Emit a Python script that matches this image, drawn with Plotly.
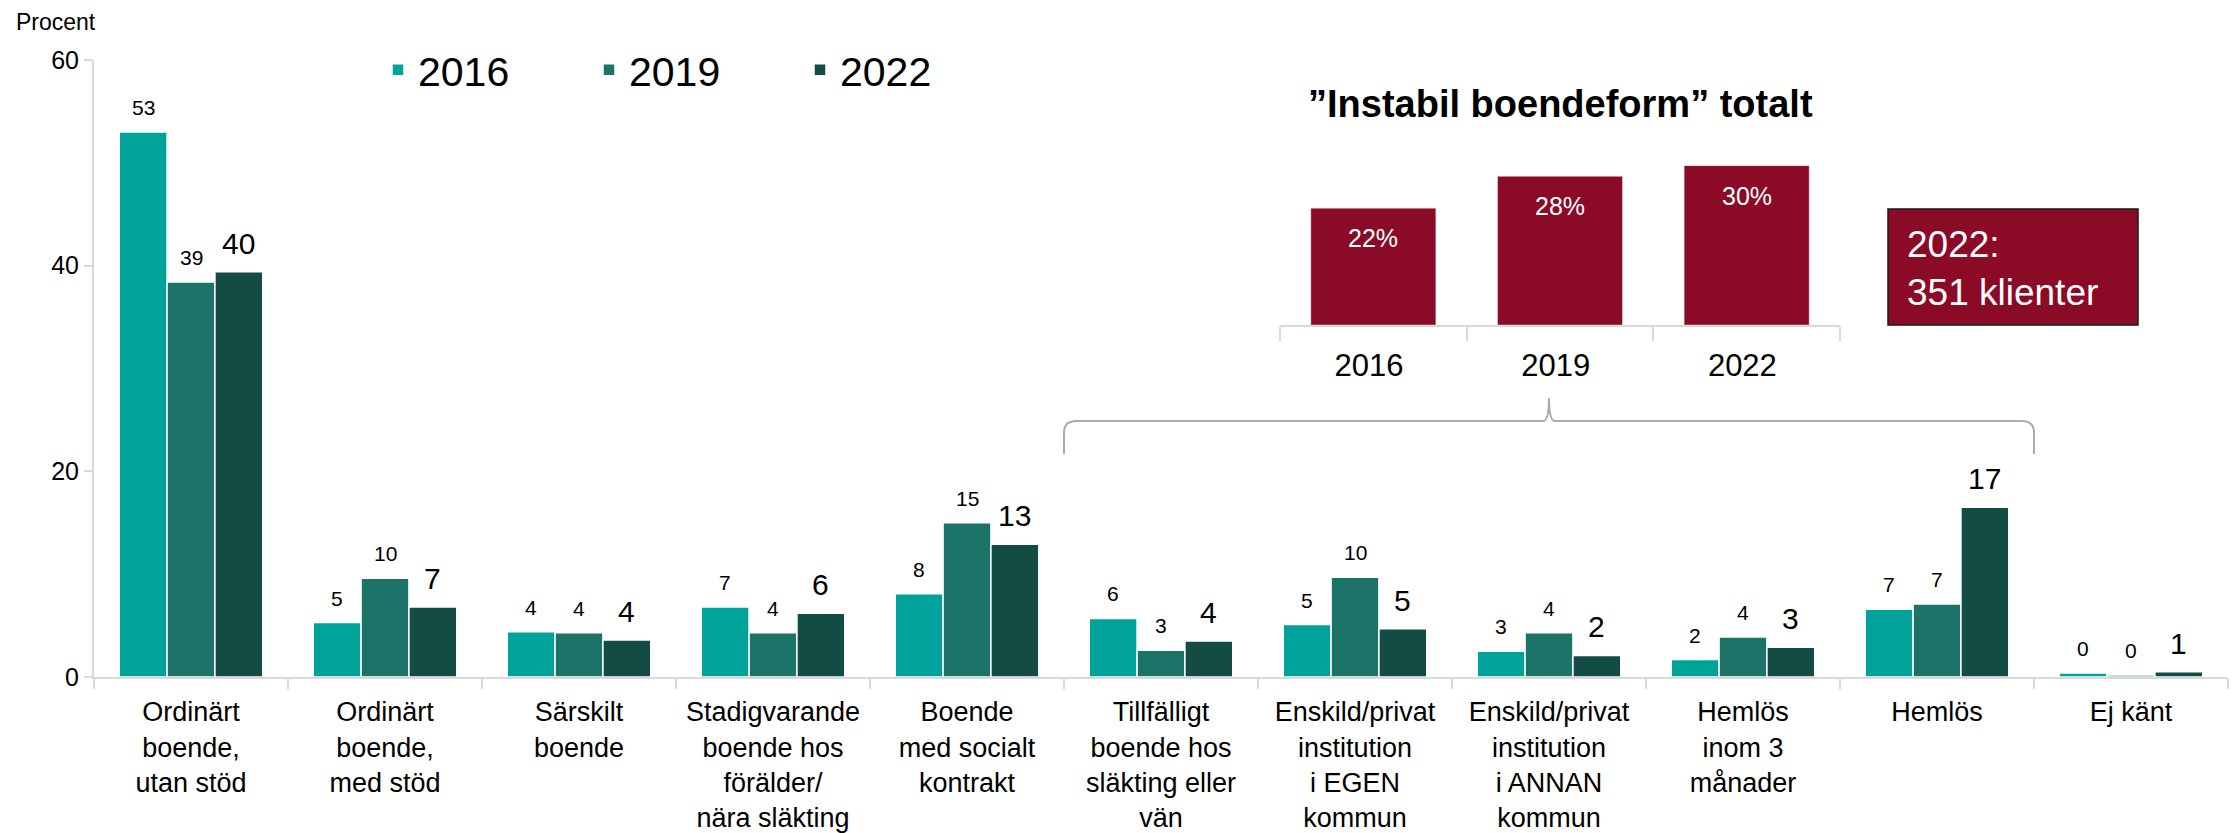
import plotly.graph_objects as go

# ---------------- data ----------------
categories = [
    "Ordinärt<br>boende,<br>utan stöd",
    "Ordinärt<br>boende,<br>med stöd",
    "Särskilt<br>boende",
    "Stadigvarande<br>boende hos<br>förälder/<br>nära släkting",
    "Boende<br>med socialt<br>kontrakt",
    "Tillfälligt<br>boende hos<br>släkting eller<br>vän",
    "Enskild/privat<br>institution<br>i EGEN<br>kommun",
    "Enskild/privat<br>institution<br>i ANNAN<br>kommun",
    "Hemlös<br>inom 3<br>månader",
    "Hemlös",
    "Ej känt",
]
years = ["2016", "2019", "2022"]
values_2016 = [53.0, 5.3, 4.4, 6.8, 8.1, 5.7, 5.1, 2.5, 1.7, 6.6, 0.4]
values_2019 = [38.4, 9.6, 4.3, 4.3, 15.0, 2.6, 9.7, 4.3, 3.9, 7.1, 0.2]
values_2022 = [39.4, 6.8, 3.6, 6.2, 12.9, 3.5, 4.7, 2.1, 2.9, 16.5, 0.5]
labels_2016 = ["53", "5", "4", "7", "8", "6", "5", "3", "2", "7", "0"]
labels_2019 = ["39", "10", "4", "4", "15", "3", "10", "4", "4", "7", "0"]
labels_2022 = ["40", "7", "4", "6", "13", "4", "5", "2", "3", "17", "1"]

inset_years = ["2016 ", "2019 ", "2022 "]
inset_values = [22, 28, 30]
inset_labels = ["22%", "28%", "30%"]

# ---------------- style ----------------
W, H = 2236, 833
ML, MR, MT, MB = 94, 8, 60, 156
PW = W - ML - MR
PH = H - MT - MB
FONT = "Liberation Sans, Arial, sans-serif"
colors = ["#00A39A", "#1B7467", "#134C45"]
RED = "#8B0A26"
AXIS = "#d9d9d9"
BARGAP = 0.26


def px_x(p):
    return (p - ML) / PW


def px_y(p):
    return (H - MB - p) / PH


fig = go.Figure()
series = [values_2016, values_2019, values_2022]
labels = [labels_2016, labels_2019, labels_2022]
for yr, vals, col in zip(years, series, colors):
    fig.add_trace(go.Bar(
        x=categories, y=vals, name=yr,
        marker=dict(color=col, line=dict(color="white", width=1.5)),
        xaxis="x", yaxis="y", hoverinfo="skip",
    ))

# value labels above bars
cat_px = PW / len(categories)
bar_px = cat_px * (1 - BARGAP) / 3
for i, (vals, labs) in enumerate(zip(series, labels)):
    big = i == 2
    for c, v, t in zip(categories, vals, labs):
        fig.add_annotation(
            x=c, y=v, xref="x", yref="y", text=t, showarrow=False,
            xanchor="center", yanchor="bottom",
            xshift=(i - 1) * bar_px, yshift=10 if big else 11,
            font=dict(family=FONT, size=30 if big else 21, color="black"),
        )

# inset bars
fig.add_trace(go.Bar(
    x=inset_years, y=inset_values, xaxis="x2", yaxis="y2",
    marker=dict(color=RED), showlegend=False, hoverinfo="skip",
    offsetgroup="inset", alignmentgroup="inset", width=0.67,
))
for idx, (v, t) in enumerate(zip(inset_values, inset_labels)):
    fig.add_annotation(
        x=idx, y=v, xref="x2", yref="y2", text=t, showarrow=False,
        yanchor="middle", yshift=-30,
        font=dict(family=FONT, size=25, color="white"),
    )

# inset title
fig.add_annotation(
    x=px_x(1560), y=px_y(104), xref="paper", yref="paper",
    text="<b>”Instabil boendeform” totalt</b>", showarrow=False,
    xanchor="center", yanchor="middle",
    font=dict(family=FONT, size=38, color="black"),
)

# Procent label
fig.add_annotation(
    x=px_x(14), y=px_y(22), xref="paper", yref="paper",
    text="Procent", showarrow=False, xanchor="left", yanchor="middle",
    font=dict(family=FONT, size=23, color="black"),
)

# box with 2022 clients
fig.add_shape(
    type="rect", xref="paper", yref="paper",
    x0=px_x(1888), x1=px_x(2138), y0=px_y(325), y1=px_y(209),
    fillcolor=RED, line=dict(color="#1a1a1a", width=1.5), layer="above",
)
fig.add_annotation(
    x=px_x(1905), y=px_y(268), xref="paper", yref="paper",
    text="2022:<br>351 klienter", showarrow=False, xanchor="left",
    yanchor="middle", align="left",
    font=dict(family=FONT, size=37, color="white"),
)

# brace
x0, x1, xc = 5 / 11, 10 / 11, 7.5 / 11
yH, yE, yP = px_y(421), px_y(454), px_y(398)
rx, ry = 12 / PW, 12 / PH
rpx = 6 / PW
path = (
    f"M {x0},{yE} L {x0},{yH - ry} Q {x0},{yH} {x0 + rx},{yH} "
    f"L {xc - rpx},{yH} Q {xc},{yH} {xc},{yP} Q {xc},{yH} {xc + rpx},{yH} "
    f"L {x1 - rx},{yH} Q {x1},{yH} {x1},{yH - ry} L {x1},{yE}"
)
fig.add_shape(type="path", xref="paper", yref="paper", path=path,
              line=dict(color="#ababab", width=2))

fig.update_layout(
    width=W, height=H,
    margin=dict(l=ML, r=MR, t=MT, b=MB, autoexpand=False),
    paper_bgcolor="white", plot_bgcolor="white",
    barmode="group", bargap=BARGAP, bargroupgap=0,
    font=dict(family=FONT, color="black"),
    showlegend=True,
    legend=dict(
        orientation="h", x=px_x(378), y=px_y(70), xanchor="left",
        yanchor="middle", xref="paper", yref="paper",
        font=dict(family=FONT, size=41, color="black"),
        entrywidth=166, entrywidthmode="pixels",
        bgcolor="rgba(0,0,0,0)", traceorder="normal",
    ),
    xaxis=dict(
        domain=[0, 1], type="category", showline=True, linecolor=AXIS,
        linewidth=2, ticks="outside", tickson="boundaries", ticklen=10,
        tickcolor=AXIS, tickwidth=1.5, showgrid=False, ticklabelstandoff=10,
        tickfont=dict(family=FONT, size=27, color="black"), tickangle=0,
    ),
    yaxis=dict(
        domain=[0, 1], range=[0, 60], tickvals=[0, 20, 40, 60],
        showline=True, linecolor=AXIS, linewidth=2, ticks="outside",
        ticklen=8, tickcolor=AXIS, tickwidth=1.5, showgrid=False,
        zeroline=False, tickfont=dict(family=FONT, size=25, color="black"),
    ),
    xaxis2=dict(
        domain=[px_x(1280), px_x(1840)], anchor="y2", type="category",
        categoryorder="array", categoryarray=inset_years,
        range=[-0.5, len(inset_years) - 0.5],
        showline=True, linecolor=AXIS, linewidth=2, ticks="outside",
        tickson="boundaries", ticklen=14, tickcolor=AXIS, tickwidth=1.5,
        showgrid=False, tickangle=0, ticklabelstandoff=12,
        tickfont=dict(family=FONT, size=31, color="black"),
    ),
    yaxis2=dict(
        domain=[px_y(325), px_y(155)], anchor="x2", range=[0, 32],
        visible=False, showgrid=False,
    ),
)

fig.write_html("out.html")
